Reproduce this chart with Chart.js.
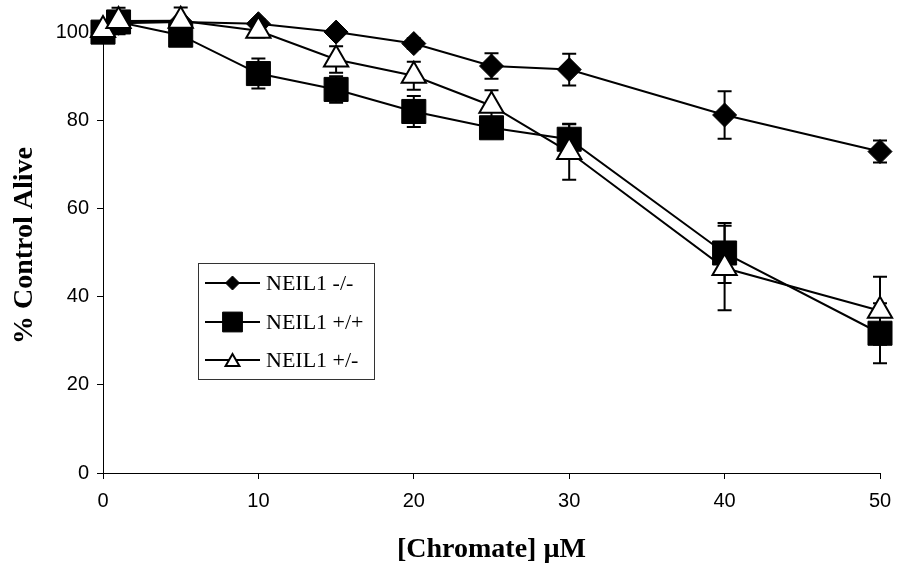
<!DOCTYPE html>
<html>
<head>
<meta charset="utf-8">
<script src="https://cdn.jsdelivr.net/npm/chart.js@4"></script>
<style>
  html, body { margin: 0; padding: 0; background: #fff; }
  #wrap { width: 898px; height: 567px; }
</style>
</head>
<body>
<div id="wrap"><canvas id="myChart"></canvas></div>
<script>
// chromate concentration (uM)
const conc = [0, 1, 5, 10, 15, 20, 25, 30, 40, 50];

// % control alive, with error values
const neilKO = [100, 102, 102.3, 101.9, 100.0, 97.4, 92.3, 91.5, 81.2, 72.9];
const errKO = [1, 1, 1, 1, 1, 1.2, 2.9, 3.6, 5.4, 2.5];

const neilWT = [100, 102.3, 99.3, 90.6, 87.0, 82.0, 78.3, 75.7, 49.9, 31.7];
const errWT = [1, 1.5, 1.5, 3.4, 3, 3.5, 2, 3.5, 6.8, 6.8];

const neilHet = [100.5, 102.5, 102.6, 100.3, 93.8, 90.1, 83.3, 72.8, 46.5, 36.8];
const errHet = [1.5, 3, 3, 1.5, 3, 3.2, 3.5, 6.3, 9.6, 7.7];

const seriesNames = ['NEIL1 -/-', 'NEIL1 +/+', 'NEIL1 +/-'];
const xTicks = [0, 10, 20, 30, 40, 50];
const yTicks = [0, 20, 40, 60, 80, 100];

function pts(ys) {
    return conc.map((x, i) => ({ x: x, y: ys[i] }));
}

// error bars, drawn under the markers
const errorBars = {
    id: 'errorBars',
    beforeDatasetsDraw(chart) {
        const ctx = chart.ctx;
        const yScale = chart.scales.y;
        ctx.save();
        ctx.strokeStyle = '#000';
        ctx.lineWidth = 2;
        chart.data.datasets.forEach((ds, di) => {
            const meta = chart.getDatasetMeta(di);
            meta.data.forEach((pt, i) => {
                const e = ds.errors[i];
                const top = yScale.getPixelForValue(ds.data[i].y + e);
                const bot = yScale.getPixelForValue(ds.data[i].y - e);
                ctx.beginPath();
                ctx.moveTo(pt.x, top); ctx.lineTo(pt.x, bot);
                ctx.moveTo(pt.x - 7, top); ctx.lineTo(pt.x + 7, top);
                ctx.moveTo(pt.x - 7, bot); ctx.lineTo(pt.x + 7, bot);
                ctx.stroke();
            });
        });
        ctx.restore();
    }
};

// boxed legend inside the plot
const boxLegend = {
    id: 'boxLegend',
    afterDraw(chart) {
        const ctx = chart.ctx;
        ctx.save();
        ctx.strokeStyle = '#333';
        ctx.lineWidth = 1;
        ctx.strokeRect(198.5, 263.5, 176, 116);
        const rows = [283, 322, 360];
        const marks = [
            { pointStyle: 'rectRot', radius: 7, rotation: 0, borderWidth: 1, backgroundColor: '#000', borderColor: '#000' },
            { pointStyle: 'rect', radius: 14, rotation: 0, borderWidth: 1, backgroundColor: '#000', borderColor: '#000' },
            { pointStyle: 'triangle', radius: 8, rotation: 0, borderWidth: 2, backgroundColor: '#fff', borderColor: '#000' }
        ];
        ctx.font = '22px "Liberation Serif", "Times New Roman", serif';
        ctx.textBaseline = 'middle';
        ctx.fillStyle = '#000';
        rows.forEach((y, i) => {
            ctx.strokeStyle = '#000';
            ctx.lineWidth = 2;
            ctx.beginPath();
            ctx.moveTo(205, y); ctx.lineTo(260, y);
            ctx.stroke();
            ctx.fillStyle = marks[i].backgroundColor;
            ctx.strokeStyle = marks[i].borderColor;
            ctx.lineWidth = marks[i].borderWidth;
            Chart.helpers.drawPoint(ctx, marks[i], 232.5, i === 2 ? y + 2 : y);
            ctx.fillStyle = '#000';
            ctx.fillText(seriesNames[i], 266, y + 1);
        });
        ctx.restore();
    }
};

const data = {
    datasets: [{
        label: seriesNames[0],
        data: pts(neilKO),
        errors: errKO,
        pointStyle: 'rectRot',
        pointRadius: 12,
        backgroundColor: '#000',
        borderColor: '#000',
        pointBorderWidth: 1,
        borderWidth: 2,
        clip: false,
        order: 3
    }, {
        label: seriesNames[1],
        data: pts(neilWT),
        errors: errWT,
        pointStyle: 'rect',
        pointRadius: 17,
        backgroundColor: '#000',
        borderColor: '#000',
        pointBorderWidth: 1,
        borderWidth: 2,
        clip: false,
        order: 2
    }, {
        label: seriesNames[2],
        data: pts(neilHet),
        errors: errHet,
        pointStyle: 'triangle',
        pointRadius: 14,
        backgroundColor: '#fff',
        borderColor: '#000',
        pointBorderWidth: 2,
        borderWidth: 2,
        clip: false,
        order: 1
    }]
};

const tickFont = { family: '"Liberation Sans", Arial, sans-serif', size: 20 };
const titleFont = { family: '"Liberation Serif", "Times New Roman", serif', size: 28, weight: 'bold' };

const config = {
    type: 'line',
    data: data,
    plugins: [errorBars, boxLegend],
    options: {
        responsive: false,
        animation: false,
        layout: { padding: { left: 0, right: 18, top: 0, bottom: 0 } },
        plugins: {
            legend: { display: false },
            tooltip: { enabled: false }
        },
        elements: { line: { tension: 0 } },
        scales: {
            x: {
                type: 'linear',
                min: 0,
                max: 50,
                afterBuildTicks: (s) => { s.ticks = xTicks.map(v => ({ value: v })); },
                afterFit: (s) => {
                    s.height = 94;
                    s.paddingLeft = 0;
                    s.paddingRight = 0;
                },
                grid: { drawOnChartArea: false, tickLength: 6, color: '#000' },
                border: { color: '#000', width: 1 },
                ticks: { color: '#000', font: tickFont, padding: 10, maxRotation: 0 },
                title: { display: true, text: '[Chromate] µM', color: '#000', font: titleFont, padding: { top: 4, bottom: 0 } }
            },
            y: {
                min: 0,
                max: 103.2,
                afterBuildTicks: (s) => { s.ticks = yTicks.map(v => ({ value: v })); },
                afterFit: (s) => {
                    s.width = 103;
                    s.paddingTop = 0;
                    s.paddingBottom = 0;
                },
                grid: { drawOnChartArea: false, tickLength: 6, color: '#000' },
                border: { color: '#000', width: 1 },
                ticks: { color: '#000', font: tickFont, padding: 8 },
                title: { display: true, text: '% Control Alive', color: '#000', font: titleFont, padding: { top: 8, bottom: 0 } }
            }
        }
    }
};

window.onload = function() {
    const canvas = document.getElementById('myChart');
    canvas.width = 898;
    canvas.height = 567;
    const ctx = canvas.getContext('2d');
    const myChart = new Chart(ctx, config);
};
</script>
</body>
</html>
